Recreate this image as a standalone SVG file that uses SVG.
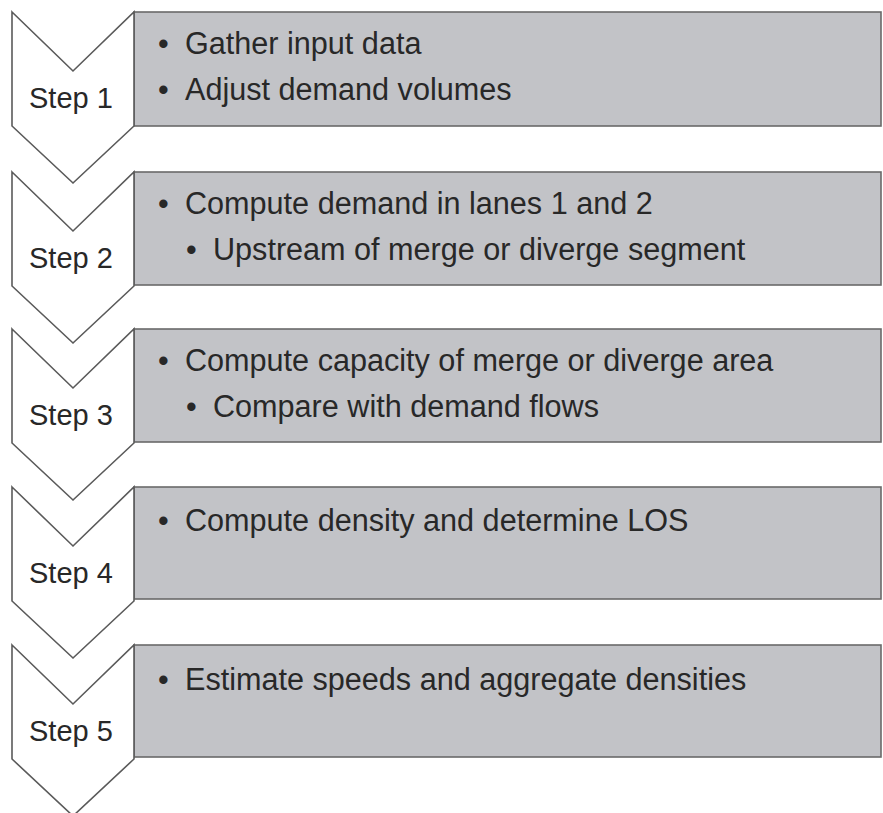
<svg xmlns="http://www.w3.org/2000/svg" width="883" height="813" viewBox="0 0 883 813">
<defs>
<style>
.box{fill:#c2c3c7;stroke:#6a6a6a;stroke-width:1.6}
.chev{fill:#ffffff;stroke:#5a5a5a;stroke-width:1.6;stroke-linejoin:miter}
.lbl{font-family:"Liberation Sans",Arial,sans-serif;font-size:29px;fill:#282828}
.txt{font-family:"Liberation Sans",Arial,sans-serif;font-size:30.6px;fill:#282828}
</style>
<polygon id="chevShape" class="chev" points="12,0 73,59 134,0 134,114 73,171 12,114"/>
</defs>
<rect width="883" height="813" fill="#ffffff"/>
<g id="step1" transform="translate(0,12)">
<rect class="box" x="134" y="0" width="747" height="114"/>
<use href="#chevShape"/>
<text class="lbl" x="29" y="96">Step 1</text>
<text class="txt" y="42"><tspan x="158">•</tspan><tspan x="185">Gather input data</tspan></text>
<text class="txt" y="88"><tspan x="158">•</tspan><tspan x="185">Adjust demand volumes</tspan></text>
</g>
<g id="step2" transform="translate(0,172)">
<rect class="box" x="134" y="0" width="747" height="113"/>
<use href="#chevShape"/>
<text class="lbl" x="29" y="96">Step 2</text>
<text class="txt" y="42"><tspan x="158">•</tspan><tspan x="185">Compute demand in lanes 1 and 2</tspan></text>
<text class="txt" y="88"><tspan x="186">•</tspan><tspan x="213">Upstream of merge or diverge segment</tspan></text>
</g>
<g id="step3" transform="translate(0,329)">
<rect class="box" x="134" y="0" width="747" height="113"/>
<use href="#chevShape"/>
<text class="lbl" x="29" y="96">Step 3</text>
<text class="txt" y="42"><tspan x="158">•</tspan><tspan x="185">Compute capacity of merge or diverge area</tspan></text>
<text class="txt" y="88"><tspan x="186">•</tspan><tspan x="213">Compare with demand flows</tspan></text>
</g>
<g id="step4" transform="translate(0,487)">
<rect class="box" x="134" y="0" width="747" height="112"/>
<use href="#chevShape"/>
<text class="lbl" x="29" y="96">Step 4</text>
<text class="txt" y="44"><tspan x="158">•</tspan><tspan x="185">Compute density and determine LOS</tspan></text>
</g>
<g id="step5" transform="translate(0,645)">
<rect class="box" x="134" y="0" width="747" height="112"/>
<use href="#chevShape"/>
<text class="lbl" x="29" y="96">Step 5</text>
<text class="txt" y="45"><tspan x="158">•</tspan><tspan x="185">Estimate speeds and aggregate densities</tspan></text>
</g>
<g id="connectors"/>
</svg>
